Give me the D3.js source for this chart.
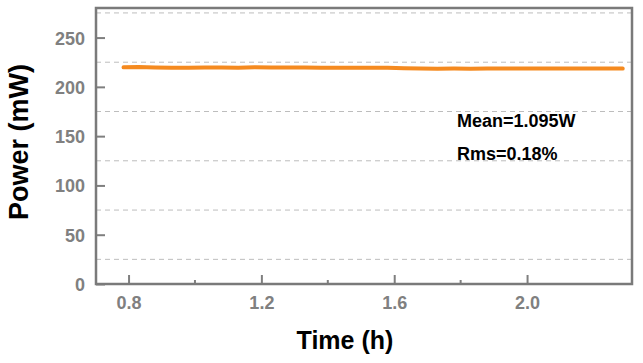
<!DOCTYPE html>
<html>
<head>
<meta charset="utf-8">
<script src="https://cdn.jsdelivr.net/npm/d3@7"></script>
<style>
  body { margin: 0; background: #fff; }
  svg text { font-family: "Liberation Sans", Arial, sans-serif; font-weight: bold; }
</style>
</head>
<body>
<div id="chart"></div>
<script>
// données
var times = [0.785, 0.83, 0.88, 0.93, 0.98, 1.03, 1.08, 1.13, 1.18, 1.23, 1.28, 1.33, 1.38, 1.43,
             1.48, 1.53, 1.58, 1.63, 1.68, 1.73, 1.78, 1.83, 1.88, 1.93, 1.98, 2.03, 2.08, 2.13,
             2.18, 2.23, 2.288];
var power = [219.8, 220.1, 219.6, 219.3, 219.5, 219.6, 219.7, 219.5, 219.8, 219.7, 219.6, 219.6, 219.4, 219.5,
             219.3, 219.4, 219.5, 218.9, 218.6, 218.4, 218.5, 218.4, 218.6, 218.5, 218.7, 218.6, 218.5, 218.6,
             218.7, 218.6, 218.5];
var yTicks = [0, 50, 100, 150, 200, 250];
var yGrid = [25, 75, 125, 175, 225, 275];
var xTicks = [0.8, 1.2, 1.6, 2.0];
var xMinor = [1.0, 1.4, 1.8];
var annotations = ["Mean=1.095W", "Rms=0.18%"];

var W = 643, H = 363;
var margin = {left: 96, top: 8, right: 11, bottom: 79};
var width = W - margin.left - margin.right;
var height = H - margin.top - margin.bottom;

var x = d3.scaleLinear().domain([0.702, 2.316]).range([0, width]);
var y = d3.scaleLinear().domain([0, 280]).range([height, 0]);

var svg = d3.select("#chart").append("svg")
  .attr("width", W).attr("height", H);
var g = svg.append("g").attr("transform", "translate(" + margin.left + "," + margin.top + ")");

// grille horizontale en tirets
g.selectAll(".grid").data(yGrid).enter().append("line")
  .attr("x1", 0).attr("x2", width)
  .attr("y1", function(d){ return y(d); })
  .attr("y2", function(d){ return y(d); })
  .attr("stroke", "#bdbdbd").attr("stroke-width", 1)
  .attr("stroke-dasharray", "5,4");

// axe Y
var yAxis = g.append("g")
  .call(d3.axisLeft(y).tickValues(yTicks).tickSize(-9).tickPadding(11).tickFormat(d3.format("d")));
yAxis.select(".domain").remove();
yAxis.selectAll("line").attr("stroke", "#7f7f7f").attr("stroke-width", 2);
yAxis.selectAll("text").attr("fill", "#808080").style("font-size", "18px").attr("dy", "0.36em");

// axe X
var xAxis = g.append("g").attr("transform", "translate(0," + height + ")")
  .call(d3.axisBottom(x).tickValues(xTicks).tickSize(-9).tickPadding(12).tickFormat(d3.format(".1f")));
xAxis.select(".domain").remove();
xAxis.selectAll("line").attr("stroke", "#7f7f7f").attr("stroke-width", 2);
xAxis.selectAll("text").attr("fill", "#808080").style("font-size", "18px");

g.selectAll(".minor").data(xMinor).enter().append("line")
  .attr("x1", function(d){ return x(d); }).attr("x2", function(d){ return x(d); })
  .attr("y1", height).attr("y2", height - 4)
  .attr("stroke", "#7f7f7f").attr("stroke-width", 2);

// cadre
g.append("rect").attr("x", 0).attr("y", 0).attr("width", width).attr("height", height)
  .attr("fill", "none").attr("stroke", "#7a7a7a").attr("stroke-width", 2.5);

// courbe
var line = d3.line()
  .x(function(d, i){ return x(times[i]); })
  .y(function(d){ return y(d); });
g.append("path").datum(power)
  .attr("d", line)
  .attr("fill", "none")
  .attr("stroke", "#f58a1f")
  .attr("stroke-width", 4)
  .attr("stroke-linecap", "round");

// texte
g.selectAll(".annot").data(annotations).enter().append("text")
  .attr("x", 361)
  .attr("y", function(d, i){ return 119 + i * 33; })
  .attr("fill", "#000").style("font-size", "18px")
  .text(function(d){ return d; });

svg.append("text")
  .attr("x", 345).attr("y", 349)
  .attr("text-anchor", "middle").style("font-size", "25px").attr("fill", "#000")
  .text("Time (h)");

svg.append("text")
  .attr("transform", "translate(28,142) rotate(-90)")
  .attr("text-anchor", "middle").style("font-size", "27px").attr("fill", "#000")
  .text("Power (mW)");
</script>
</body>
</html>
